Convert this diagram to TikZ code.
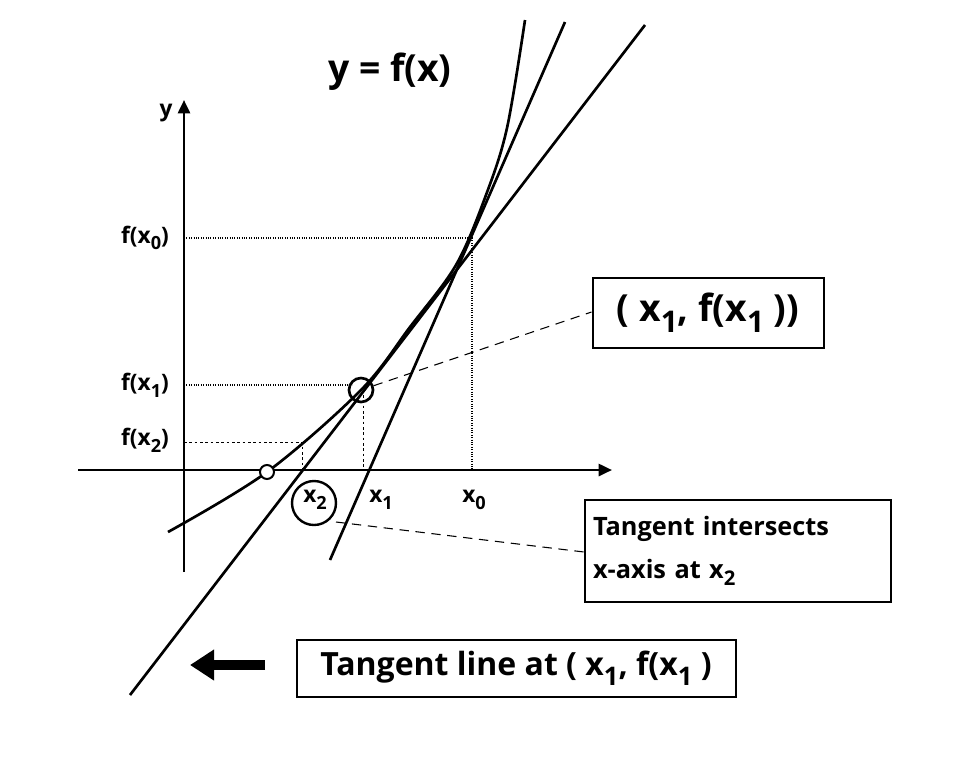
\documentclass[tikz,border=0pt]{standalone}
\usepackage{fontspec}
\setmainfont{Open Sans}
\usetikzlibrary{arrows.meta}
\newcommand\lsub[1]{\raisebox{-0.55ex}{\scalebox{0.8}{#1}}}
\begin{document}
\begin{tikzpicture}[x=0.75pt,y=-0.75pt,font=\bfseries,
  lbl/.style={font=\bfseries\fontsize{17}{20}\selectfont,inner sep=1pt},
  box/.style={draw,line width=1.5pt,inner sep=6pt,align=left},
  guide/.style={densely dotted,line width=0.8pt},
  thin/.style={dashed,line width=0.5pt,dash pattern=on 2pt off 2pt},
  lead/.style={dashed,line width=0.8pt,dash pattern=on 7pt off 5pt}]
\useasboundingbox (0,0) rectangle (963,765);
\draw[line width=2pt,-{Triangle[length=10pt,width=9pt]}] (184,572) -- (184,100) coordinate (ytop);
\draw[line width=2pt,-{Triangle[length=10pt,width=9pt]}] (78,470) -- (612,470);
\node[lbl] (ylab) at (166,113) {y};
\draw[line width=2pt] plot[smooth,tension=0.55] coordinates {(168,532) (267,472) (361,390) (410,327) (456,265) (486,195) (507,128) (525,20)};
\draw[line width=2pt] (330,560) -- (565,22);
\draw[line width=2pt] (130,695) -- (645,25);
\draw[guide] (184,238) -- (472,238) -- (472,470);
\draw[guide] (184,385) -- (352,385);
\draw[thin] (363,395) -- (363,470);
\draw[thin] (184,442) -- (302,442) -- (302,470);
\node[lbl] (fx0) at (145,238) {f(x\lsub{0})};
\node[lbl] (fx1) at (145,385) {f(x\lsub{1})};
\node[lbl] (fx2) at (145,440) {f(x\lsub{2})};
\node[lbl] (x2) at (315,500) {x\lsub{2}};
\node[lbl] (x1) at (381,500) {x\lsub{1}};
\node[lbl] (x0) at (474,500) {x\lsub{0}};
\node[draw,circle,line width=1.8pt,minimum size=44pt*0.75,inner sep=0] (c2) at (314,503) {};
\node[draw,circle,fill=white,line width=1.5pt,minimum size=14pt*0.75,inner sep=0] (c0) at (267,472) {};
\node[draw,circle,line width=2pt,minimum size=24pt*0.75,inner sep=0] (c1) at (361,390) {};
\node[font=\bfseries\fontsize{28}{32}\selectfont] (title) at (390,72) {y = f(x)};
\node[box,font=\bfseries\fontsize{28}{32}\selectfont,minimum width=231pt*0.75,minimum height=70pt*0.75] (b1) at (708,313) {( x\lsub{1}, f(x\lsub{1} ))};
\node[box,font=\bfseries\fontsize{19}{32}\selectfont,text width=290pt*0.75,inner xsep=8pt*0.75,minimum height=102pt*0.75] (b2) at (738,551) {Tangent intersects\\x-axis at x\lsub{2}};
\node[box,font=\bfseries\fontsize{24}{28}\selectfont,minimum width=439pt*0.75,minimum height=57pt*0.75] (b3) at (516,668) {Tangent line at ( x\lsub{1}, f(x\lsub{1} )};
\draw[lead] (c1) -- (b1.west |- 0,312);
\draw[lead] (336,522) -- (b2.west |- 0,552);
\draw[line width=7pt,-{Triangle[length=18pt,width=22pt]}] (265,665) -- (190,665) coordinate (arr);
\end{tikzpicture}
\end{document}
